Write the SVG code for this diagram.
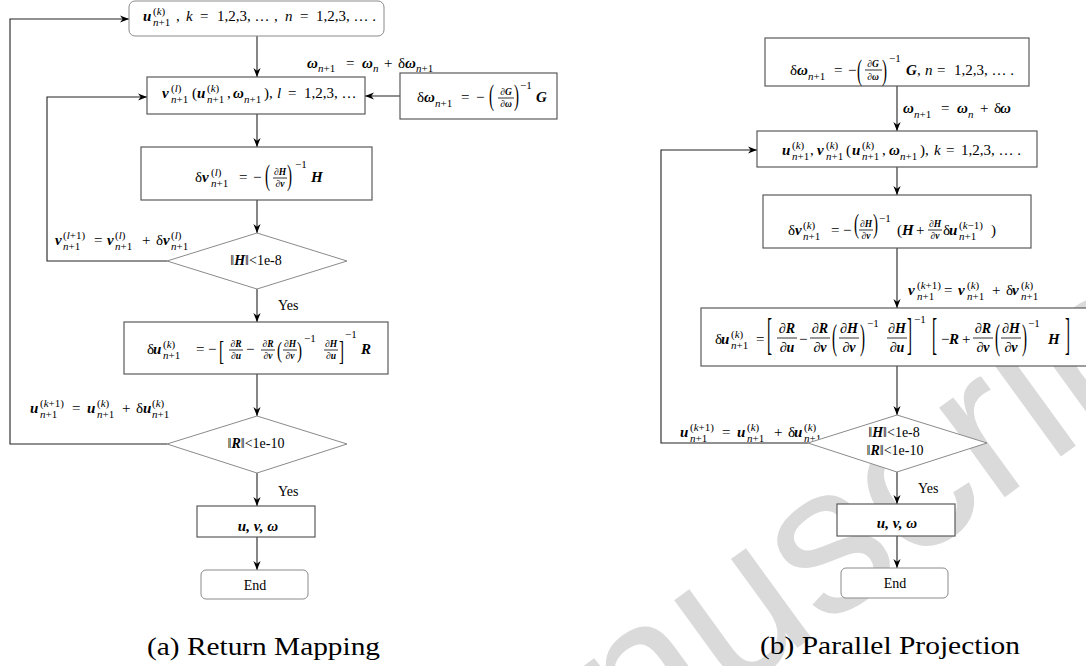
<svg xmlns="http://www.w3.org/2000/svg" width="1086" height="666" viewBox="0 0 1086 666">
<defs>
<marker id="ah" viewBox="0 0 10 8" refX="10" refY="4" markerWidth="9" markerHeight="7.5" markerUnits="userSpaceOnUse" orient="auto"><path d="M0,0 L10,4 L0,8 L3,4 z" fill="#000"/></marker>
<style>
.box{fill:#fff;stroke:#5a5a5a;stroke-width:1.2}
.rbox{fill:#fff;stroke:#8a8a8a;stroke-width:1}
.dia{fill:#fff;stroke:#8a8a8a;stroke-width:1}
.con{fill:none;stroke:#222;stroke-width:1.1}
.fl{stroke:#000;stroke-width:0.8}
.m{font-family:"Liberation Serif",serif;font-size:15px;fill:#000}
.t{font-family:"Liberation Serif",serif;font-size:14px;fill:#000}
.b{font-weight:bold;font-style:italic}
.i{font-style:italic}
.s{font-size:11px}
.f{font-size:9.5px}
.F{font-size:14px}
.cap{font-family:"Liberation Serif",serif;font-size:25px;fill:#000}
.wm{font-family:"Liberation Sans",sans-serif;font-size:210px;fill:#dadada}
</style>
</defs>
<rect width="1086" height="666" fill="#fff"/>
<text class="wm" transform="translate(398,938) rotate(-36)">Manuscript</text>

<g id="connectors">
<path class="con" d="M257,36V77" marker-end="url(#ah)"/>
<path class="con" d="M257,114V147" marker-end="url(#ah)"/>
<path class="con" d="M257,200V233" marker-end="url(#ah)"/>
<path class="con" d="M257,289V322" marker-end="url(#ah)"/>
<path class="con" d="M257,374V416" marker-end="url(#ah)"/>
<path class="con" d="M257,473V506" marker-end="url(#ah)"/>
<path class="con" d="M257,537V570" marker-end="url(#ah)"/>
<path class="con" d="M167,261H47V97H147" marker-end="url(#ah)"/>
<path class="con" d="M167,444H10V19H129" marker-end="url(#ah)"/>
<path class="con" d="M400,96H365" marker-end="url(#ah)"/>
<path class="con" d="M897,86V131" marker-end="url(#ah)"/>
<path class="con" d="M897,167V195" marker-end="url(#ah)"/>
<path class="con" d="M897,248V308" marker-end="url(#ah)"/>
<path class="con" d="M897,366V415" marker-end="url(#ah)"/>
<path class="con" d="M897,472V504" marker-end="url(#ah)"/>
<path class="con" d="M897,536V568" marker-end="url(#ah)"/>
<path class="con" d="M808,443H661V150H757" marker-end="url(#ah)"/>
<text class="t" x="278" y="310">Yes</text>
<text class="t" x="278" y="496">Yes</text>
<text class="t" x="918" y="493">Yes</text>
<!-- omega update label (a) -->
<text class="m"><tspan x="307" y="68" class="b">ω</tspan><tspan x="318" y="72" class="s"><tspan class="i">n</tspan>+1</tspan><tspan x="346" y="68">=</tspan><tspan x="362" y="68" class="b">ω</tspan><tspan x="373" y="72" class="s i">n</tspan><tspan x="384" y="68">+</tspan><tspan x="398" y="68">δ</tspan><tspan x="405" y="68" class="b">ω</tspan><tspan x="416" y="72" class="s"><tspan class="i">n</tspan>+1</tspan></text>
<!-- v update label (a) -->
<text class="m"><tspan x="55" y="245" class="b">v</tspan><tspan x="63" y="239" class="s">(<tspan class="i">l</tspan>+1)</tspan><tspan x="63" y="250" class="s"><tspan class="i">n</tspan>+1</tspan><tspan x="94" y="245">=</tspan><tspan x="107" y="245" class="b">v</tspan><tspan x="115" y="239" class="s">(<tspan class="i">l</tspan>)</tspan><tspan x="115" y="250" class="s"><tspan class="i">n</tspan>+1</tspan><tspan x="142" y="245">+</tspan><tspan x="156" y="245">δ</tspan><tspan x="163" y="245" class="b">v</tspan><tspan x="171" y="239" class="s">(<tspan class="i">l</tspan>)</tspan><tspan x="171" y="250" class="s"><tspan class="i">n</tspan>+1</tspan></text>
<!-- u update label (a) -->
<text class="m"><tspan x="30" y="413" class="b">u</tspan><tspan x="40" y="407" class="s">(<tspan class="i">k</tspan>+1)</tspan><tspan x="40" y="418" class="s"><tspan class="i">n</tspan>+1</tspan><tspan x="72" y="413">=</tspan><tspan x="87" y="413" class="b">u</tspan><tspan x="97" y="407" class="s">(<tspan class="i">k</tspan>)</tspan><tspan x="97" y="418" class="s"><tspan class="i">n</tspan>+1</tspan><tspan x="122" y="413">+</tspan><tspan x="136" y="413">δ</tspan><tspan x="143" y="413" class="b">u</tspan><tspan x="152" y="407" class="s">(<tspan class="i">k</tspan>)</tspan><tspan x="152" y="418" class="s"><tspan class="i">n</tspan>+1</tspan></text>
<!-- omega label (b) -->
<text class="m"><tspan x="903" y="113" class="b">ω</tspan><tspan x="914" y="118" class="s"><tspan class="i">n</tspan>+1</tspan><tspan x="941" y="113">=</tspan><tspan x="957" y="113" class="b">ω</tspan><tspan x="968" y="118" class="s i">n</tspan><tspan x="980" y="113">+</tspan><tspan x="994" y="113">δ</tspan><tspan x="1000" y="113" class="b">ω</tspan></text>
<!-- v label (b) -->
<text class="m"><tspan x="908" y="295" class="b">v</tspan><tspan x="917" y="289" class="s">(<tspan class="i">k</tspan>+1)</tspan><tspan x="917" y="300" class="s"><tspan class="i">n</tspan>+1</tspan><tspan x="944" y="295">=</tspan><tspan x="958" y="295" class="b">v</tspan><tspan x="967" y="289" class="s">(<tspan class="i">k</tspan>)</tspan><tspan x="967" y="300" class="s"><tspan class="i">n</tspan>+1</tspan><tspan x="992" y="295">+</tspan><tspan x="1006" y="295">δ</tspan><tspan x="1012" y="295" class="b">v</tspan><tspan x="1021" y="289" class="s">(<tspan class="i">k</tspan>)</tspan><tspan x="1021" y="300" class="s"><tspan class="i">n</tspan>+1</tspan></text>
<!-- u label (b) -->
<text class="m"><tspan x="680" y="437" class="b">u</tspan><tspan x="690" y="431" class="s">(<tspan class="i">k</tspan>+1)</tspan><tspan x="690" y="442" class="s"><tspan class="i">n</tspan>+1</tspan><tspan x="722" y="437">=</tspan><tspan x="737" y="437" class="b">u</tspan><tspan x="747" y="431" class="s">(<tspan class="i">k</tspan>)</tspan><tspan x="747" y="442" class="s"><tspan class="i">n</tspan>+1</tspan><tspan x="774" y="437">+</tspan><tspan x="788" y="437">δ</tspan><tspan x="794" y="437" class="b">u</tspan><tspan x="804" y="431" class="s">(<tspan class="i">k</tspan>)</tspan><tspan x="804" y="442" class="s"><tspan class="i">n</tspan>+1</tspan></text>
</g>

<!-- ===== (a) Return Mapping ===== -->
<g id="a-start">
<rect class="rbox" x="129" y="1" width="255" height="35" rx="6"/>
<text class="m"><tspan x="143" y="21" class="b">u</tspan><tspan x="153" y="15" class="s">(<tspan class="i">k</tspan>)</tspan><tspan x="153" y="26" class="s"><tspan class="i">n</tspan>+1</tspan><tspan x="176" y="21">,</tspan><tspan x="186" y="21" class="i">k</tspan><tspan x="200" y="21">=</tspan><tspan x="217" y="21">1,2,3, …</tspan><tspan x="274" y="21">,</tspan><tspan x="285" y="21" class="i">n</tspan><tspan x="300" y="21">=</tspan><tspan x="316" y="21">1,2,3, … .</tspan></text>
</g>
<g id="a-v">
<rect class="box" x="147" y="77" width="218" height="37"/>
<text class="m"><tspan x="162" y="98" class="b">v</tspan><tspan x="171" y="92" class="s">(<tspan class="i">l</tspan>)</tspan><tspan x="171" y="103" class="s"><tspan class="i">n</tspan>+1</tspan><tspan x="192" y="98">(</tspan><tspan x="197" y="98" class="b">u</tspan><tspan x="207" y="92" class="s">(<tspan class="i">k</tspan>)</tspan><tspan x="207" y="103" class="s"><tspan class="i">n</tspan>+1</tspan><tspan x="227" y="98">,</tspan><tspan x="233" y="98" class="b">ω</tspan><tspan x="244" y="103" class="s"><tspan class="i">n</tspan>+1</tspan><tspan x="264" y="98">),</tspan><tspan x="277" y="98" class="i">l</tspan><tspan x="288" y="98">=</tspan><tspan x="304" y="98">1,2,3, …</tspan></text>
</g>
<g id="a-dw">
<rect class="box" x="400" y="73" width="157" height="46"/>
<text class="m"><tspan x="417" y="102">δ</tspan><tspan x="424" y="102" class="b">ω</tspan><tspan x="435" y="107" class="s"><tspan class="i">n</tspan>+1</tspan><tspan x="461" y="102">=</tspan><tspan x="476" y="102">−</tspan></text>
<text class="m" transform="translate(489,105) scale(1,1.95)">(</text>
<text class="m f" text-anchor="middle" x="506" y="95">∂<tspan class="b">G</tspan></text>
<path class="fl" d="M498,98H514"/>
<text class="m f" text-anchor="middle" x="506" y="107">∂<tspan class="b">ω</tspan></text>
<text class="m" transform="translate(514,105) scale(1,1.95)">)</text>
<text class="m s" x="520" y="89">−1</text>
<text class="m b" x="536" y="102">G</text>
</g>
<g id="a-dv">
<rect class="box" x="141" y="147" width="231" height="53"/>
<text class="m"><tspan x="195" y="182">δ</tspan><tspan x="202" y="182" class="b">v</tspan><tspan x="211" y="176" class="s">(<tspan class="i">l</tspan>)</tspan><tspan x="211" y="187" class="s"><tspan class="i">n</tspan>+1</tspan><tspan x="239" y="182">=</tspan><tspan x="253" y="182">−</tspan></text>
<text class="m" transform="translate(265,185) scale(1,1.95)">(</text>
<text class="m f" text-anchor="middle" x="280" y="175">∂<tspan class="b">H</tspan></text>
<path class="fl" d="M273,178H287"/>
<text class="m f" text-anchor="middle" x="280" y="187">∂<tspan class="b">v</tspan></text>
<text class="m" transform="translate(287,185) scale(1,1.95)">)</text>
<text class="m s" x="295" y="168">−1</text>
<text class="m b" x="311" y="182">H</text>
</g>
<g id="a-dia1">
<polygon class="dia" points="257,233 347,261 257,289 167,261"/>
<text class="t" x="256" y="265" text-anchor="middle">‖<tspan class="b">H</tspan>‖&lt;1e-8</text>
</g>
<g id="a-du">
<rect class="box" x="124" y="322" width="264" height="52"/>
<text class="m"><tspan x="147" y="354">δ</tspan><tspan x="153" y="354" class="b">u</tspan><tspan x="163" y="348" class="s">(<tspan class="i">k</tspan>)</tspan><tspan x="163" y="359" class="s"><tspan class="i">n</tspan>+1</tspan><tspan x="196" y="354">=</tspan><tspan x="208" y="354">−</tspan><tspan x="246" y="354">−</tspan></text>
<text class="m" transform="translate(219,360) scale(1,1.8)">[</text>
<text class="m f" text-anchor="middle" x="236" y="347">∂<tspan class="b">R</tspan></text>
<path class="fl" d="M229,350H243"/>
<text class="m f" text-anchor="middle" x="236" y="359">∂<tspan class="b">u</tspan></text>
<text class="m f" text-anchor="middle" x="268" y="347">∂<tspan class="b">R</tspan></text>
<path class="fl" d="M261,350H275"/>
<text class="m f" text-anchor="middle" x="268" y="359">∂<tspan class="b">v</tspan></text>
<text class="m" transform="translate(277,358) scale(1,1.6)">(</text>
<text class="m f" text-anchor="middle" x="290" y="347">∂<tspan class="b">H</tspan></text>
<path class="fl" d="M283,350H297"/>
<text class="m f" text-anchor="middle" x="290" y="359">∂<tspan class="b">v</tspan></text>
<text class="m" transform="translate(297,358) scale(1,1.6)">)</text>
<text class="m s" x="304" y="342">−1</text>
<text class="m f" text-anchor="middle" x="331" y="347">∂<tspan class="b">H</tspan></text>
<path class="fl" d="M324,350H338"/>
<text class="m f" text-anchor="middle" x="331" y="359">∂<tspan class="b">u</tspan></text>
<text class="m" transform="translate(339,360) scale(1,1.8)">]</text>
<text class="m s" x="345" y="338">−1</text>
<text class="m b" x="361" y="354">R</text>
</g>
<g id="a-dia2">
<polygon class="dia" points="257,416 347,444 257,473 167,444"/>
<text class="t" x="256" y="448" text-anchor="middle">‖<tspan class="b">R</tspan>‖&lt;1e-10</text>
</g>
<g id="a-res">
<rect class="box" x="197" y="506" width="118" height="31"/>
<text class="m b" x="258" y="531" text-anchor="middle">u, v, ω</text>
</g>
<g id="a-end">
<rect class="rbox" x="201" y="570" width="107" height="29" rx="5"/>
<text class="t" x="255" y="590" text-anchor="middle">End</text>
</g>
<text class="cap" x="147" y="655" textLength="233" lengthAdjust="spacingAndGlyphs">(a) Return Mapping</text>

<!-- ===== (b) Parallel Projection ===== -->
<g id="b-dw">
<rect class="box" x="765" y="38" width="264" height="48"/>
<text class="m"><tspan x="790" y="75">δ</tspan><tspan x="797" y="75" class="b">ω</tspan><tspan x="808" y="80" class="s"><tspan class="i">n</tspan>+1</tspan><tspan x="834" y="75">=</tspan><tspan x="848" y="75">−</tspan></text>
<text class="m" transform="translate(857,80) scale(1,1.95)">(</text>
<text class="m f" text-anchor="middle" x="873" y="67">∂<tspan class="b">G</tspan></text>
<path class="fl" d="M865,70H882"/>
<text class="m f" text-anchor="middle" x="873" y="80">∂<tspan class="b">ω</tspan></text>
<text class="m" transform="translate(882,80) scale(1,1.95)">)</text>
<text class="m"><tspan x="889" y="62" class="s">−1</tspan><tspan x="906" y="75" class="b">G</tspan><tspan x="917" y="75">,</tspan><tspan x="925" y="75" class="i">n</tspan><tspan x="937" y="75">=</tspan><tspan x="954" y="75">1,2,3, … .</tspan></text>
</g>
<g id="b-uv">
<rect class="box" x="757" y="131" width="280" height="36"/>
<text class="m"><tspan x="782" y="155" class="b">u</tspan><tspan x="792" y="149" class="s">(<tspan class="i">k</tspan>)</tspan><tspan x="792" y="160" class="s"><tspan class="i">n</tspan>+1</tspan><tspan x="810" y="155">,</tspan><tspan x="817" y="155" class="b">v</tspan><tspan x="826" y="149" class="s">(<tspan class="i">k</tspan>)</tspan><tspan x="826" y="160" class="s"><tspan class="i">n</tspan>+1</tspan><tspan x="846" y="155">(</tspan><tspan x="852" y="155" class="b">u</tspan><tspan x="862" y="149" class="s">(<tspan class="i">k</tspan>)</tspan><tspan x="862" y="160" class="s"><tspan class="i">n</tspan>+1</tspan><tspan x="882" y="155">,</tspan><tspan x="889" y="155" class="b">ω</tspan><tspan x="900" y="160" class="s"><tspan class="i">n</tspan>+1</tspan><tspan x="920" y="155">),</tspan><tspan x="934" y="155" class="i">k</tspan><tspan x="946" y="155">=</tspan><tspan x="961" y="155">1,2,3, … .</tspan></text>
</g>
<g id="b-dv">
<rect class="box" x="763" y="195" width="268" height="53"/>
<text class="m"><tspan x="788" y="235">δ</tspan><tspan x="795" y="235" class="b">v</tspan><tspan x="803" y="229" class="s">(<tspan class="i">k</tspan>)</tspan><tspan x="803" y="240" class="s"><tspan class="i">n</tspan>+1</tspan><tspan x="831" y="235">=</tspan><tspan x="843" y="235">−</tspan></text>
<text class="m" transform="translate(854,233) scale(1,1.8)">(</text>
<text class="m f" text-anchor="middle" x="866" y="227">∂<tspan class="b">H</tspan></text>
<path class="fl" d="M859,230H873"/>
<text class="m f" text-anchor="middle" x="866" y="239">∂<tspan class="b">v</tspan></text>
<text class="m" transform="translate(873,233) scale(1,1.8)">)</text>
<text class="m"><tspan x="879" y="222" class="s">−1</tspan><tspan x="897" y="235">(</tspan><tspan x="902" y="235" class="b">H</tspan><tspan x="916" y="235">+</tspan></text>
<text class="m f" text-anchor="middle" x="935" y="227">∂<tspan class="b">H</tspan></text>
<path class="fl" d="M928,230H942"/>
<text class="m f" text-anchor="middle" x="935" y="239">∂<tspan class="b">v</tspan></text>
<text class="m"><tspan x="943" y="235">δ</tspan><tspan x="949" y="235" class="b">u</tspan><tspan x="959" y="229" class="s">(<tspan class="i">k</tspan>−1)</tspan><tspan x="959" y="240" class="s"><tspan class="i">n</tspan>+1</tspan><tspan x="991" y="235">)</tspan></text>
</g>
<g id="b-du">
<rect class="box" x="701" y="308" width="392" height="58"/>
<text class="m"><tspan x="715" y="344">δ</tspan><tspan x="721" y="344" class="b">u</tspan><tspan x="731" y="338" class="s">(<tspan class="i">k</tspan>)</tspan><tspan x="731" y="349" class="s"><tspan class="i">n</tspan>+1</tspan><tspan x="756" y="344">=</tspan><tspan x="799" y="344">−</tspan><tspan x="941" y="344">−</tspan><tspan x="949" y="344" class="b">R</tspan><tspan x="962" y="344">+</tspan><tspan x="1048" y="344" class="b">H</tspan></text>
<text class="m" transform="translate(767,349) scale(1,2.9)">[</text>
<text class="m F" text-anchor="middle" x="787" y="333">∂<tspan class="b">R</tspan></text>
<path class="fl" d="M777,338H797"/>
<text class="m F" text-anchor="middle" x="787" y="352">∂<tspan class="b">u</tspan></text>
<text class="m F" text-anchor="middle" x="820" y="333">∂<tspan class="b">R</tspan></text>
<path class="fl" d="M810,338H830"/>
<text class="m F" text-anchor="middle" x="820" y="352">∂<tspan class="b">v</tspan></text>
<text class="m" transform="translate(832,349) scale(1,2.35)">(</text>
<text class="m F" text-anchor="middle" x="849" y="333">∂<tspan class="b">H</tspan></text>
<path class="fl" d="M839,338H859"/>
<text class="m F" text-anchor="middle" x="849" y="352">∂<tspan class="b">v</tspan></text>
<text class="m" transform="translate(860,349) scale(1,2.35)">)</text>
<text class="m s" x="867" y="327">−1</text>
<text class="m F" text-anchor="middle" x="897" y="333">∂<tspan class="b">H</tspan></text>
<path class="fl" d="M887,338H907"/>
<text class="m F" text-anchor="middle" x="897" y="352">∂<tspan class="b">u</tspan></text>
<text class="m" transform="translate(907,349) scale(1,2.9)">]</text>
<text class="m s" x="914" y="323">−1</text>
<text class="m" transform="translate(932,349) scale(1,2.9)">[</text>
<text class="m F" text-anchor="middle" x="983" y="333">∂<tspan class="b">R</tspan></text>
<path class="fl" d="M973,338H993"/>
<text class="m F" text-anchor="middle" x="983" y="352">∂<tspan class="b">v</tspan></text>
<text class="m" transform="translate(995,349) scale(1,2.35)">(</text>
<text class="m F" text-anchor="middle" x="1011" y="333">∂<tspan class="b">H</tspan></text>
<path class="fl" d="M1001,338H1021"/>
<text class="m F" text-anchor="middle" x="1011" y="352">∂<tspan class="b">v</tspan></text>
<text class="m" transform="translate(1022,349) scale(1,2.35)">)</text>
<text class="m s" x="1028" y="327">−1</text>
<text class="m" transform="translate(1065,349) scale(1,2.9)">]</text>
</g>
<g id="b-dia">
<polygon class="dia" points="897,415 987,443 897,472 808,443"/>
<text class="t" x="894" y="437" text-anchor="middle">‖<tspan class="b">H</tspan>‖&lt;1e-8</text>
<text class="t" x="895" y="455" text-anchor="middle">‖<tspan class="b">R</tspan>‖&lt;1e-10</text>
</g>
<g id="b-res">
<rect class="box" x="837" y="504" width="118" height="32"/>
<text class="m b" x="897" y="528" text-anchor="middle">u, v, ω</text>
</g>
<g id="b-end">
<rect class="rbox" x="841" y="568" width="107" height="30" rx="5"/>
<text class="t" x="895" y="588" text-anchor="middle">End</text>
</g>
<text class="cap" x="760" y="654" textLength="260" lengthAdjust="spacingAndGlyphs">(b) Parallel Projection</text>
</svg>
